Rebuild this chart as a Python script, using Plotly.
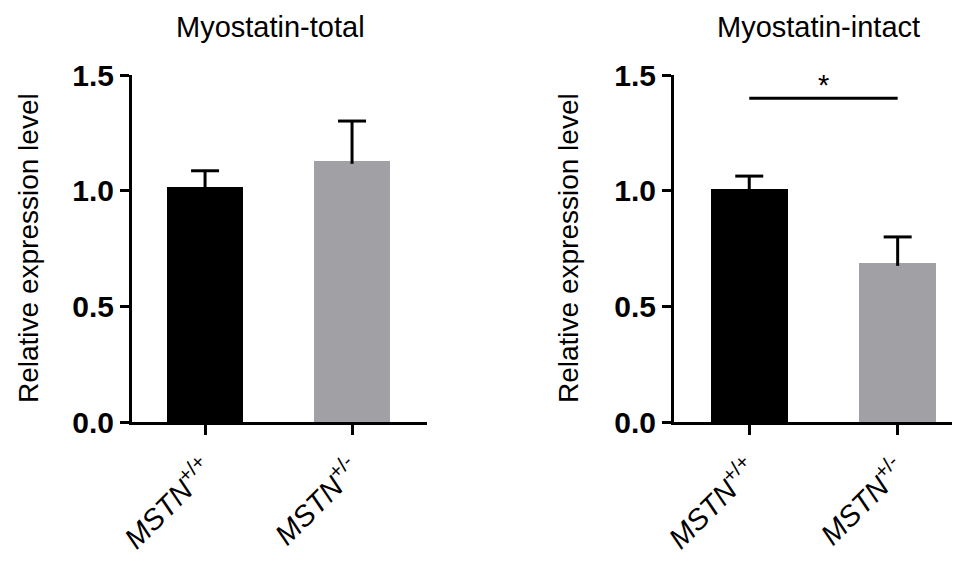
import plotly.graph_objects as go

categories = ["<i>MSTN</i><sup>+/+</sup>", "<i>MSTN</i><sup>+/-</sup>"]
total_mean = [1.016, 1.128]
total_err = [0.070, 0.173]
intact_mean = [1.007, 0.687]
intact_err = [0.056, 0.113]
bar_colors = ["#000000", "#a1a1a5"]
panel_titles = ["Myostatin-total", "Myostatin-intact"]
y_title = "Relative expression level"
y_ticks = [0, 0.5, 1.0, 1.5]
y_ticklabels = ["0.0", "0.5", "1.0", "1.5"]
sig_label = "*"
sig_y = 1.40

FONT = "Liberation Sans, Arial, sans-serif"
OFF = 8  # default page body margin
W, H = 960 - OFF, 563 - OFF


def px(x):
    return (x - OFF) / W


def py(y):
    return 1 - (y - OFF) / H


fig = go.Figure()
xs = [0, 1]
for i, (m, e) in enumerate([(total_mean, total_err), (intact_mean, intact_err)]):
    xa = "x" if i == 0 else "x2"
    ya = "y" if i == 0 else "y2"
    fig.add_trace(go.Bar(
        x=xs, y=m, width=0.52,
        marker=dict(color=bar_colors, line=dict(width=0)),
        xaxis=xa, yaxis=ya, showlegend=False, hoverinfo="skip",
    ))
    # one-sided (upper) error bars: stem + top cap only
    sx, sy = [], []
    for xv, mv, ev in zip(xs, m, e):
        sx += [xv, xv, None]
        sy += [mv - 0.012, mv + ev, None]
    fig.add_trace(go.Scatter(x=sx, y=sy, mode="lines", line=dict(color="black", width=3),
                             xaxis=xa, yaxis=ya, showlegend=False, hoverinfo="skip"))
    fig.add_trace(go.Scatter(x=xs, y=[mv + ev for mv, ev in zip(m, e)], mode="markers",
                             marker=dict(symbol="line-ew", size=20, line=dict(color="black", width=3)),
                             xaxis=xa, yaxis=ya, showlegend=False, hoverinfo="skip"))

ydom = [py(422), py(75)]
common_y = dict(range=[0, 1.5], tickvals=y_ticks, ticktext=y_ticklabels,
                showline=True, linecolor="black", linewidth=3, ticks="outside",
                ticklen=9, tickwidth=3, tickcolor="black", showgrid=False, zeroline=False,
                tickfont=dict(family=FONT, size=30, color="black", weight="bold"),
                domain=ydom, automargin=False)
common_x = dict(tickvals=xs, ticktext=categories, tickangle=-45,
                showline=True, linecolor="black", linewidth=3, ticks="outside",
                ticklen=10, tickwidth=3, tickcolor="black", showgrid=False, zeroline=False,
                tickfont=dict(family=FONT, size=29, color="black"), automargin=False,
                ticklabelstandoff=6)

fig.update_layout(
    width=W, height=H, margin=dict(l=0, r=0, t=0, b=0),
    plot_bgcolor="white", paper_bgcolor="white",
    xaxis=dict(common_x, domain=[px(132), px(427)], range=[-0.497, 1.51], anchor="y"),
    yaxis=dict(common_y, anchor="x"),
    xaxis2=dict(common_x, domain=[px(674), 1.0], range=[-0.507, 1.42], anchor="y2"),
    yaxis2=dict(common_y, anchor="x2"),
    bargap=0,
)

# significance bar
fig.add_shape(type="line", xref="x2", yref="y2", x0=0, x1=1, y0=sig_y, y1=sig_y,
              line=dict(color="black", width=3))
fig.add_annotation(xref="x2", yref="y2", x=0.5, y=sig_y, text=sig_label, showarrow=False,
                   yanchor="bottom", yshift=-5, font=dict(family=FONT, size=29, color="black"))

# titles
for cx, t in zip([270, 818], panel_titles):
    fig.add_annotation(xref="paper", yref="paper", x=px(cx), y=py(27), text=t,
                       showarrow=False, xanchor="center", yanchor="middle",
                       font=dict(family=FONT, size=29, color="black"))
for cx in [28, 568]:
    fig.add_annotation(xref="paper", yref="paper", x=px(cx), y=py(248), text=y_title,
                       showarrow=False, textangle=-90, xanchor="center", yanchor="middle",
                       font=dict(family=FONT, size=28, color="black"))

fig.write_html("out.html")
